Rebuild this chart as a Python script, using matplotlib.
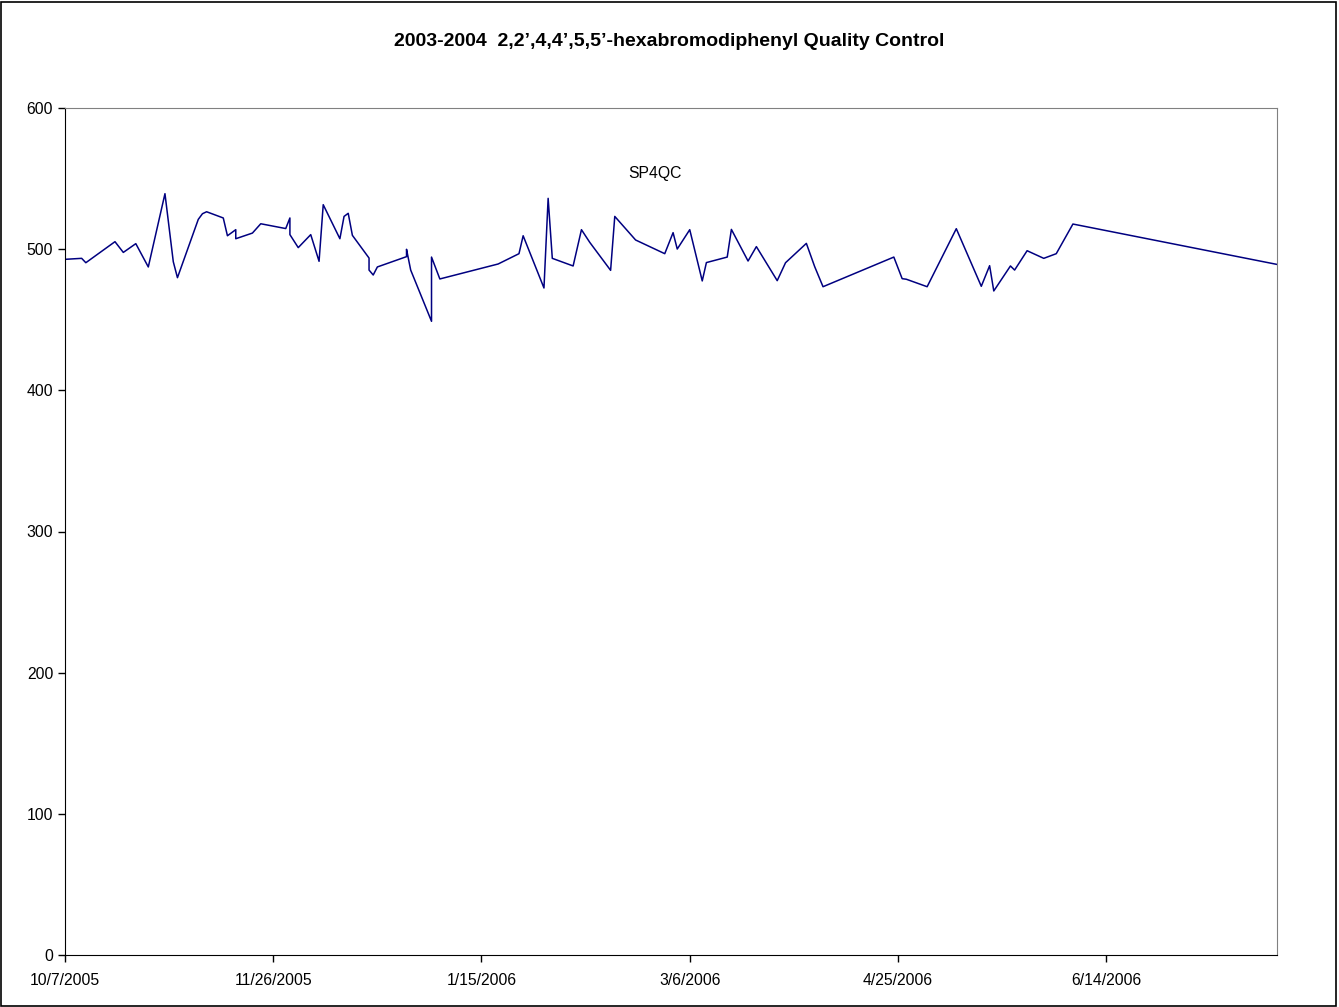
import pandas as pd
import numpy as np
import matplotlib.pyplot as plt
import matplotlib.dates as mdates
from matplotlib.patches import Rectangle

plt.rcParams['font.family'] = ['Liberation Sans', 'DejaVu Sans']

# SP4QC quality control values
dates = ['2005-10-07', '2005-10-11', '2005-10-12', '2005-10-19', '2005-10-21', '2005-10-24',
         '2005-10-27', '2005-10-31', '2005-11-02', '2005-11-03', '2005-11-08', '2005-11-09',
         '2005-11-10', '2005-11-14', '2005-11-15', '2005-11-17', '2005-11-17', '2005-11-21',
         '2005-11-23', '2005-11-29', '2005-11-30', '2005-11-30', '2005-12-02', '2005-12-05',
         '2005-12-07', '2005-12-08', '2005-12-12', '2005-12-13', '2005-12-14', '2005-12-15',
         '2005-12-19', '2005-12-19', '2005-12-20', '2005-12-21', '2005-12-28', '2005-12-28',
         '2005-12-29', '2006-01-03', '2006-01-03', '2006-01-05', '2006-01-19', '2006-01-24',
         '2006-01-25', '2006-01-30', '2006-01-31', '2006-02-01', '2006-02-06', '2006-02-08',
         '2006-02-10', '2006-02-15', '2006-02-16', '2006-02-21', '2006-02-28', '2006-03-02',
         '2006-03-03', '2006-03-06', '2006-03-09', '2006-03-10', '2006-03-15', '2006-03-16',
         '2006-03-20', '2006-03-22', '2006-03-27', '2006-03-29', '2006-04-03', '2006-04-05',
         '2006-04-07', '2006-04-24', '2006-04-26', '2006-04-27', '2006-05-02', '2006-05-09',
         '2006-05-15', '2006-05-17', '2006-05-18', '2006-05-22', '2006-05-23', '2006-05-26',
         '2006-05-30', '2006-06-02', '2006-06-06', '2006-07-25']
values = [492.8, 493.5, 490.4, 505.3, 497.7, 503.9,
          487.4, 539.3, 491.1, 479.8, 521.1, 525.1,
          526.5, 522.1, 509.5, 513.8, 507.4, 511.4,
          518.0, 514.6, 522.1, 510.3, 501.1, 510.3,
          491.4, 531.5, 507.4, 523.2, 525.4, 509.8,
          493.7, 485.2, 481.7, 487.4, 494.7, 499.9,
          485.2, 448.9, 494.4, 478.9, 489.5, 496.8,
          509.5, 472.5, 536.0, 493.5, 488.1, 513.8,
          504.8, 485.0, 523.2, 506.5, 496.8, 511.7,
          500.1, 513.8, 477.5, 490.5, 494.4, 514.0,
          491.6, 501.8, 477.7, 490.4, 504.1, 487.6,
          473.4, 494.4, 479.1, 478.7, 473.4, 514.5,
          473.7, 488.3, 470.4, 488.1, 485.2, 498.9,
          493.5, 496.8, 517.8, 489.2]

tick_dates = ['2005-10-07', '2005-11-26', '2006-01-15', '2006-03-06', '2006-04-25', '2006-06-14']
tick_labels = ['10/7/2005', '11/26/2005', '1/15/2006', '3/6/2006', '4/25/2006', '6/14/2006']

d = pd.to_datetime(dates)

fig = plt.figure(figsize=(13.39, 10.07), dpi=100)
ax = fig.add_axes([65/1339, 1-955/1007, (1277-65)/1339, (955-108)/1007])

ax.plot(d, values, color='#000080', lw=1.1)

ax.set_xlim(pd.Timestamp('2005-10-07'), pd.Timestamp('2006-07-25'))
ax.set_ylim(0, 600)
ax.set_yticks(np.arange(0, 601, 100))
ax.set_xticks(pd.to_datetime(tick_dates))
ax.set_xticklabels(tick_labels)
ax.tick_params(direction='out', length=5, width=1, labelsize=11.3, color='black')
ax.tick_params(axis='x', pad=8)
ax.tick_params(axis='y', pad=3.5)

for s in ['top', 'right']:
    ax.spines[s].set_color('#808080')
for s in ['left', 'bottom']:
    ax.spines[s].set_color('black')

ax.text(0.487, 0.923, 'SP4QC', transform=ax.transAxes, ha='center', va='center', fontsize=11.3)

fig.text(0.5, 1-42/1007, "2003-2004  2,2\u2019,4,4\u2019,5,5\u2019-hexabromodiphenyl Quality Control",
         ha='center', va='center', fontsize=14, fontweight='bold')

fig.patches.append(Rectangle((0.001, 0.001), 0.997, 0.997, transform=fig.transFigure,
                             fill=False, edgecolor='black', lw=1.2))

fig.savefig('out.png', dpi=100)
